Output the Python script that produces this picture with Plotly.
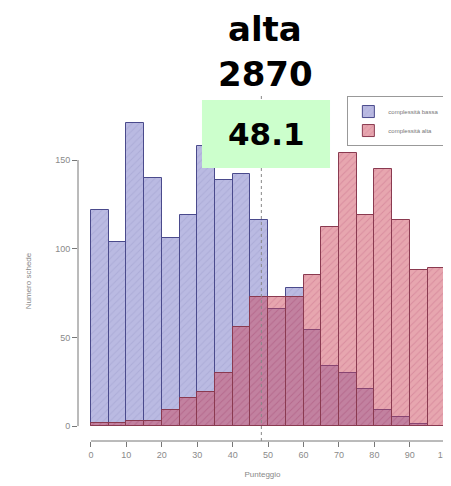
import plotly.graph_objects as go

# histogram bins (punteggio, width 5)
bin_starts = [0, 5, 10, 15, 20, 25, 30, 35, 40, 45,
              50, 55, 60, 65, 70, 75, 80, 85, 90, 95]
bin_width = 5

# counts
bassa = [122, 104, 171, 140, 106, 119, 158, 139, 142, 116,
         66, 78, 54, 34, 30, 21, 9, 5, 1, 0]
alta = [2, 2, 3, 3, 9, 16, 19, 30, 56, 73,
        73, 73, 85, 112, 154, 119, 145, 116, 88, 89]

media = 48.1
titolo = "alta"
totale = "2870"
x_ticks = [0, 10, 20, 30, 40, 50, 60, 70, 80, 90, 100]
y_ticks = [0, 50, 100, 150]

centers = [b + bin_width / 2 for b in bin_starts]

fig = go.Figure()
fig.add_trace(go.Bar(
    x=centers, y=bassa, width=bin_width,
    name="complessità bassa",
    marker=dict(
        color="rgba(160,160,215,0.72)",
        line=dict(color="#4a4a8c", width=1),
        pattern=dict(shape="/", fgcolor="rgba(110,110,170,0.35)", size=5, solidity=0.2),
    ),
))
fig.add_trace(go.Bar(
    x=centers, y=alta, width=bin_width,
    name="complessità alta",
    marker=dict(
        color="rgba(205,65,85,0.47)",
        line=dict(color="#8a3a50", width=1),
        pattern=dict(shape="/", fgcolor="rgba(160,40,90,0.4)", size=5, solidity=0.2),
    ),
))

tick_font = dict(family="Liberation Sans", size=9, color="#8a8a8a")

# the page body adds an 8px offset, so the figure is 8px smaller than the window
fig.update_layout(
    width=443, height=478,
    margin=dict(l=70, r=4, t=113, b=45, autoexpand=False),
    paper_bgcolor="white", plot_bgcolor="white",
    barmode="overlay", bargap=0,
    showlegend=True,
    legend=dict(
        x=0.73, y=1.078, xanchor="left", yanchor="top",
        font=dict(family="Liberation Sans", size=6, color="#777"),
        bordercolor="#999", borderwidth=1, bgcolor="white",
        itemwidth=30, tracegroupgap=0,
    ),
    xaxis=dict(
        range=[-3.65, 100.5], tickvals=x_ticks,
        ticks="outside", ticklen=5, tickcolor="#777",
        showline=False, showgrid=False, zeroline=False,
        tickfont=tick_font, ticklabeloverflow="allow",
        title=dict(text="Punteggio", font=dict(family="Liberation Sans", size=8, color="#888"), standoff=12),
    ),
    yaxis=dict(
        range=[-8.4, 172], tickvals=y_ticks,
        ticks="outside", ticklen=5, tickcolor="#777",
        showline=False, showgrid=False, zeroline=False,
        tickfont=tick_font,
        title=dict(text="Numero schede", font=dict(family="Liberation Sans", size=8, color="#888"), standoff=22),
    ),
)

# R-style detached axis lines
fig.add_shape(type="line", xref="x", yref="paper", x0=0, x1=100, y0=0, y1=0,
              line=dict(color="#777", width=1))
fig.add_shape(type="line", xref="paper", yref="y", x0=0, x1=0, y0=0, y1=150,
              line=dict(color="#777", width=1))

# mean line
fig.add_shape(type="line", xref="x", yref="paper", x0=media, x1=media, y0=0, y1=1.0875,
              line=dict(color="#888", width=1, dash="dot"))

# green box with the mean
fig.add_shape(type="rect", xref="paper", yref="paper", x0=0.336, x1=0.683, y0=0.853, y1=1.066,
              fillcolor="#ccffcc", line=dict(width=0), layer="above")
fig.add_annotation(xref="paper", yref="paper", x=0.51, y=0.96, xanchor="center", yanchor="middle",
                   text="<b>%.1f</b>" % media, showarrow=False,
                   font=dict(family="DejaVu Sans", size=31, color="black"))

# title
fig.add_annotation(xref="paper", yref="paper", x=0.507, y=(441 - 29) / 320, xanchor="center", yanchor="middle",
                   text="<b>%s</b>" % titolo, showarrow=False,
                   font=dict(family="DejaVu Sans", size=34, color="black"))
fig.add_annotation(xref="paper", yref="paper", x=0.507, y=(441 - 74) / 320, xanchor="center", yanchor="middle",
                   text="<b>%s</b>" % totale, showarrow=False,
                   font=dict(family="DejaVu Sans", size=34, color="black"))

fig.write_html("out.html")
